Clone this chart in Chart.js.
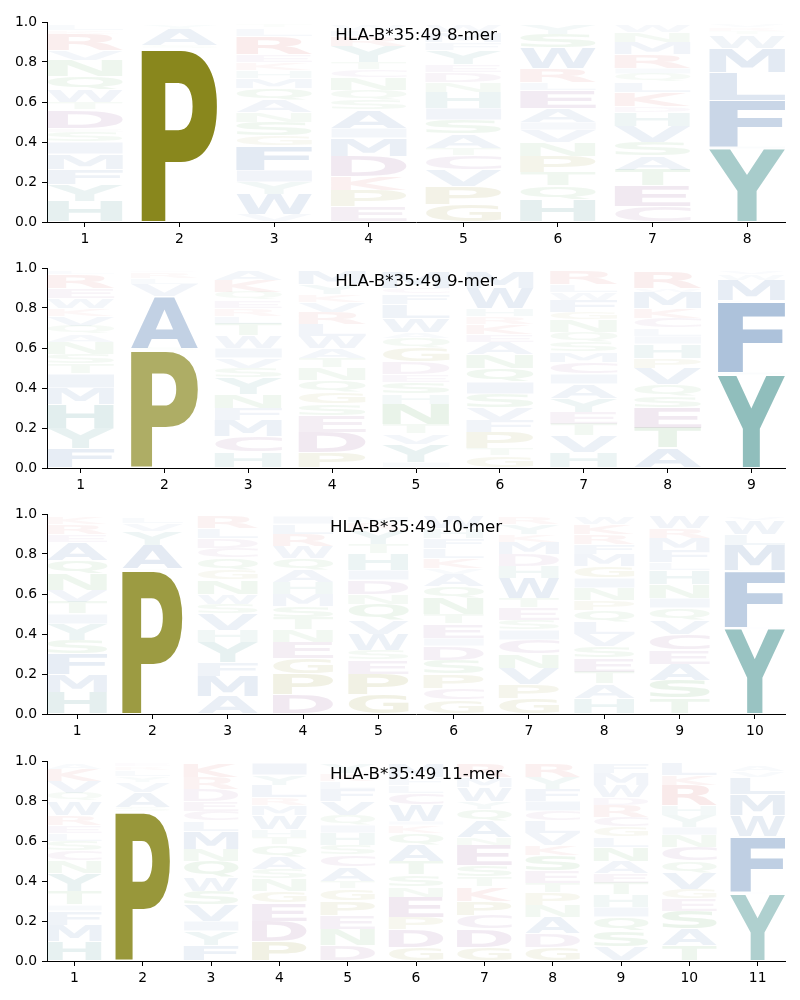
<!DOCTYPE html>
<html>
<head>
<meta charset="utf-8">
<script src="https://cdn.jsdelivr.net/npm/chart.js@4"></script>
<style>
  html, body { margin: 0; padding: 0; background: #fff; }
  #wrap { position: relative; width: 800px; height: 1000px; }
  canvas { position: absolute; left: 0; }
</style>
</head>
<body>
<div id="wrap">
  <canvas id="c0" width="800" height="246" style="top:0px"></canvas>
  <canvas id="c1" width="800" height="246" style="top:246px"></canvas>
  <canvas id="c2" width="800" height="246" style="top:492px"></canvas>
  <canvas id="c3" width="800" height="246" style="top:739px"></canvas>
</div>
<script>
// letters in each column, bottom to top, with their heights (probabilities)
const positions8 = [1, 2, 3, 4, 5, 6, 7, 8];
const letters8 = ["HYFMISEDTWQNVRKL", "PSAY", "VWYIFGSNAQMHKERLT", "EPKDMIASQNCTYRLW",
  "GPVCTASIHNDEYFMW", "HQTPNVIAELRWSY", "CETASVHDKLQIRMNW", "YIFLMWTRV"];
const heights8 = [
  [.105, .085, .075, .075, .06, .05, .02, .09, .04, .06, .07, .08, .05, .08, .02, .03],
  [.865, .02, .08, .025],
  [.04, .10, .06, .06, .12, .05, .07, .05, .06, .06, .05, .04, .04, .04, .09, .04, .02],
  [.08, .08, .07, .10, .09, .05, .09, .05, .05, .06, .04, .04, .08, .05, .03, .03],
  [.09, .09, .08, .07, .04, .07, .07, .06, .08, .05, .05, .04, .07, .04, .05, .04],
  [.11, .07, .07, .08, .07, .06, .04, .07, .09, .04, .07, .10, .07, .05],
  [.08, .10, .08, .07, .07, .08, .07, .03, .07, .05, .04, .03, .07, .06, .05, .04],
  [.365, .015, .23, .14, .12, .065, .02, .02, .015]
];

const positions9 = [1, 2, 3, 4, 5, 6, 7, 8, 9];
const letters9 = ["FYHMITSNAQVKWERL", "PSAVLRE", "HCMFNYSVIWTLREQKA", "PDESGQNTAWLRVKYM",
  "IYVTNHSEDGQAWLFCM", "GTPFVSIQNAEKRHWML", "HVTEYAICMSQNGFWLR", "ATESQVPHILCKMWR", "YIFLMWV"];
const heights9 = [
  [.10, .10, .12, .08, .07, .05, .05, .06, .04, .04, .05, .04, .05, .05, .07, .02],
  [.585, .015, .26, .06, .03, .03, .01],
  [.08, .08, .08, .06, .07, .08, .05, .05, .05, .06, .06, .04, .04, .04, .04, .06, .05],
  [.08, .10, .08, .06, .06, .06, .06, .05, .05, .06, .06, .06, .05, .04, .05, .07],
  [.03, .09, .05, .05, .10, .05, .06, .04, .06, .07, .05, .03, .07, .07, .05, .03, .08],
  [.06, .04, .08, .06, .06, .07, .06, .07, .07, .06, .04, .05, .04, .04, .10, .08, .01],
  [.08, .08, .06, .06, .07, .07, .05, .06, .05, .05, .05, .06, .04, .06, .04, .04, .07],
  [.10, .10, .10, .06, .06, .08, .05, .07, .04, .04, .05, .05, .08, .02, .08],
  [.465, .015, .35, .01, .10, .03, .02]
];

const positions10 = [1, 2, 3, 4, 5, 6, 7, 8, 9, 10];
const letters10 = ["HMFSYITVNQAERK", "PSAYVL", "AMFYHVSWNGQCDLR", "DPGENTSMHAQWRLI",
  "GPESWVQNDIHTYRM", "GCPSDIETNQAVKLFHW", "GPVNCISETWHDMKYR", "HATESVLQPNIGMFRKW",
  "TSAECVQINHLFMRW", "YIFSMLWV"];
const heights10 = [
  [.11, .09, .10, .07, .08, .05, .06, .06, .08, .07, .09, .04, .05, .04],
  [.715, .012, .118, .07, .04, .03],
  [.09, .10, .07, .10, .06, .08, .05, .05, .07, .05, .06, .05, .05, .05, .06],
  [.10, .10, .08, .08, .06, .06, .06, .06, .06, .06, .06, .06, .06, .05, .04],
  [.10, .10, .07, .05, .08, .07, .08, .05, .07, .05, .08, .05, .07, .04, .03],
  [.07, .06, .07, .07, .07, .04, .07, .05, .08, .06, .06, .03, .05, .05, .05, .05, .06],
  [.08, .07, .08, .07, .07, .05, .05, .06, .05, .10, .06, .06, .06, .04, .05, .04],
  [.08, .07, .06, .07, .06, .06, .06, .06, .05, .06, .05, .06, .06, .05, .05, .05, .04],
  [.08, .09, .08, .07, .08, .07, .06, .05, .07, .07, .04, .06, .06, .05, .06],
  [.425, .01, .275, .01, .125, .055, .07, .02]
];

const positions11 = [1, 2, 3, 4, 5, 6, 7, 8, 9, 10, 11];
const letters11 = ["HMFITYNCSLERWQVKA", "PSAVYLRE", "FYIVSWQNMLCEDRK", "PDEGNSAQTHWMRLYI",
  "DNEPGTACSHIQVFLKY", "GDPENSTAQKIWCLFM", "GDCPKTSENAQYWMR", "GDANPTESKVLCIFYR",
  "VSQIHTEANLGCRDWMF", "TASEGVQCNIYHRKL", "YIFSWMLVA"];
const heights11 = [
  [.10, .08, .07, .03, .07, .09, .06, .05, .05, .04, .04, .05, .07, .04, .06, .06, .03],
  [.745, .025, .075, .05, .03, .03, .02, .015],
  [.08, .07, .05, .08, .07, .07, .08, .06, .09, .05, .05, .05, .06, .06, .07],
  [.10, .10, .09, .06, .06, .05, .06, .06, .04, .04, .07, .05, .04, .06, .05, .06],
  [.08, .08, .07, .07, .06, .04, .07, .06, .05, .06, .04, .05, .07, .06, .04, .04, .05],
  [.07, .09, .06, .10, .05, .06, .07, .08, .06, .04, .02, .08, .06, .04, .04, .07],
  [.07, .09, .07, .07, .07, .05, .06, .10, .04, .08, .06, .04, .07, .05, .07],
  [.07, .07, .08, .06, .06, .05, .06, .08, .05, .06, .06, .05, .05, .06, .06, .07],
  [.07, .08, .07, .05, .06, .06, .05, .06, .07, .05, .05, .05, .06, .04, .06, .06, .05],
  [.08, .08, .09, .06, .05, .08, .06, .07, .06, .04, .06, .05, .10, .05, .06],
  [.335, .01, .27, .01, .105, .105, .085, .03, .03]
];

const titles = ["HLA-B*35:49 8-mer", "HLA-B*35:49 9-mer", "HLA-B*35:49 10-mer", "HLA-B*35:49 11-mer"];

// amino acid colour groups
const groupRGB = {
  blue: [55, 105, 167], teal: [51, 135, 133], olive: [137, 135, 29],
  purple: [135, 70, 140], red: [205, 75, 75], green: [70, 155, 70]
};
const aaGroup = {
  A: 'blue', V: 'blue', L: 'blue', I: 'blue', M: 'blue', F: 'blue', W: 'blue',
  Y: 'teal', H: 'teal', P: 'olive', G: 'olive', D: 'purple', E: 'purple', C: 'purple',
  K: 'red', R: 'red', N: 'green', Q: 'green', S: 'green', T: 'green'
};

function letterColor(ch, h) {
  const c = groupRGB[aaGroup[ch]];
  const a = Math.min(1, h * 1.17);
  return 'rgba(' + c[0] + ',' + c[1] + ',' + c[2] + ',' + a.toFixed(3) + ')';
}

// draw a letter stretched to fill the box
function drawGlyph(ctx, ch, x, y, w, h, color) {
  if (w <= 0 || h <= 0.2) return;
  ctx.save();
  ctx.font = 'bold 200px "DejaVu Sans"';
  ctx.textAlign = 'left';
  ctx.textBaseline = 'alphabetic';
  const m = ctx.measureText(ch);
  const gw = m.actualBoundingBoxLeft + m.actualBoundingBoxRight;
  const gh = m.actualBoundingBoxAscent + m.actualBoundingBoxDescent;
  ctx.translate(x, y);
  ctx.scale(w / gw, h / gh);
  ctx.fillStyle = color;
  ctx.fillText(ch, m.actualBoundingBoxLeft, m.actualBoundingBoxAscent);
  ctx.restore();
}

Chart.defaults.font.family = '"DejaVu Sans", sans-serif';
Chart.defaults.font.size = 13.9;
Chart.defaults.color = '#000';

const panels = [
  { pos: positions8, letters: letters8, heights: heights8, title: titles[0] },
  { pos: positions9, letters: letters9, heights: heights9, title: titles[1] },
  { pos: positions10, letters: letters10, heights: heights10, title: titles[2] },
  { pos: positions11, letters: letters11, heights: heights11, title: titles[3] }
];

panels.forEach(function (p, n) {
  const depth = Math.max.apply(null, p.letters.map(s => s.length));
  const datasets = [];
  for (let k = 0; k < depth; k++) {
    datasets.push({
      data: p.pos.map((x, i) => ({ x: x, y: k < p.letters[i].length ? p.heights[i][k] : null })),
      backgroundColor: 'rgba(0,0,0,0)',
      borderWidth: 0,
      barPercentage: 1,
      categoryPercentage: 0.8
    });
  }

  const logoPlugin = {
    id: 'logo' + n,
    afterDatasetsDraw(chart) {
      const ctx = chart.ctx;
      for (let k = 0; k < depth; k++) {
        const meta = chart.getDatasetMeta(k);
        meta.data.forEach(function (el, i) {
          const ch = p.letters[i][k];
          if (!ch) return;
          const top = Math.min(el.y, el.base), bot = Math.max(el.y, el.base);
          drawGlyph(ctx, ch, el.x - el.width / 2, top + 0.5, el.width, bot - top - 1,
            letterColor(ch, p.heights[i][k]));
        });
      }
    },
    afterDraw(chart) {
      const ctx = chart.ctx, a = chart.chartArea;
      ctx.save();
      ctx.font = '16.67px "DejaVu Sans"';
      ctx.fillStyle = '#000';
      ctx.textAlign = 'center';
      ctx.textBaseline = 'middle';
      ctx.fillText(p.title, (a.left + a.right) / 2, a.top + 14);
      ctx.restore();
    }
  };

  new Chart(document.getElementById('c' + n), {
    type: 'bar',
    data: { datasets: datasets },
    options: {
      responsive: false,
      animation: false,
      layout: { padding: { top: 22, right: 15, left: 0, bottom: 0 } },
      plugins: { legend: { display: false }, tooltip: { enabled: false }, title: { display: false } },
      scales: {
        x: {
          type: 'linear',
          stacked: true,
          offset: false,
          min: p.pos[0] - 0.4,
          max: p.pos[p.pos.length - 1] + 0.4,
          afterFit: s => { s.height = 24; },
          grid: { offset: false, drawOnChartArea: false, drawTicks: true, tickLength: 5, color: '#000' },
          border: { display: true, color: '#000', width: 1 },
          ticks: { stepSize: 1, includeBounds: false, padding: 4, maxRotation: 0, autoSkip: false }
        },
        y: {
          stacked: true,
          min: 0,
          max: 1,
          afterFit: s => { s.width = 47; },
          grid: { drawOnChartArea: false, drawTicks: true, tickLength: 5, color: '#000' },
          border: { display: true, color: '#000', width: 1 },
          ticks: { stepSize: 0.2, padding: 5, callback: v => v.toFixed(1) }
        }
      }
    },
    plugins: [logoPlugin]
  });
});
</script>
</body>
</html>
